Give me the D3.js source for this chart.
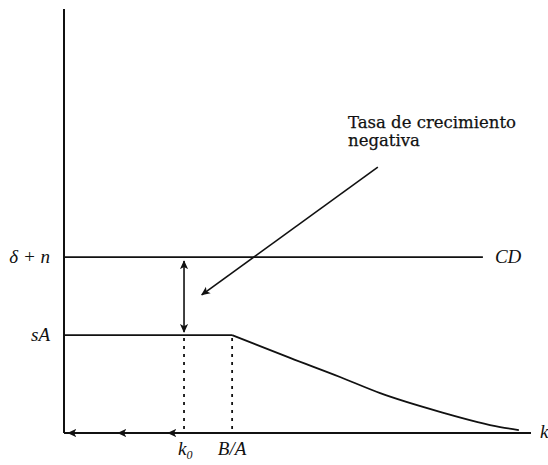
<!DOCTYPE html>
<html>
<head>
<meta charset="utf-8">
<script src="https://cdn.jsdelivr.net/npm/d3@7"></script>
<style>
  body { margin: 0; background: #fff; }
  svg { display: block; }
  .math { font-family: 'Liberation Serif', serif; font-style: italic; font-size: 19px; fill: #111; }
  .note { font-family: 'DejaVu Serif', serif; font-size: 16.5px; fill: #111; stroke: #111; stroke-width: 0.25; }
</style>
</head>
<body>
<svg id="chart"></svg>
<script>
// model values (k on x, rates on y, both 0..10)
const kMax = 10;
const rMax = 10;
const k0 = 2.57;
const kBA = 3.6;
const sA = 2.31;
const deltaN = 4.15;
const cdEnd = 8.97;
const curveK = [3.6, 4.84, 5.91, 6.77, 8.05, 9.34, 9.74];
const curveR = [2.31, 1.77, 1.32, 0.94, 0.50, 0.14, 0.07];
const axisArrows = [0.09, 1.16, 2.23];
const noteLines = ['Tasa de crecimiento', 'negativa'];
const noteFrom = [6.72, 6.27];
const noteTo = [2.95, 3.26];

const width = 548, height = 465;
const svg = d3.select('#chart').attr('width', width).attr('height', height);

const x = d3.scaleLinear().domain([0, kMax]).range([64, 531]);
const y = d3.scaleLinear().domain([0, rMax]).range([433, 9]);

const defs = svg.append('defs');
defs.append('marker')
    .attr('id', 'head')
    .attr('viewBox', '0 0 10 10')
    .attr('refX', 9).attr('refY', 5)
    .attr('markerWidth', 9).attr('markerHeight', 9)
    .attr('markerUnits', 'userSpaceOnUse')
    .attr('orient', 'auto-start-reverse')
    .append('path')
    .attr('d', 'M0,0.5 L10,5 L0,9.5 L2.5,5 Z')
    .attr('fill', '#111');

const g = svg.append('g').attr('stroke', '#111').attr('fill', 'none');

// axes
g.append('line')
    .attr('x1', x(0)).attr('x2', x(0))
    .attr('y1', y(rMax)).attr('y2', y(0))
    .attr('stroke-width', 2);
g.append('line')
    .attr('x1', x(0)).attr('x2', x(kMax))
    .attr('y1', y(0)).attr('y2', y(0))
    .attr('stroke-width', 2);

// leftward arrows along the k axis
g.selectAll('.ax-arrow')
    .data(axisArrows)
    .join('line')
    .attr('class', 'ax-arrow')
    .attr('x1', d => x(d) + 10).attr('x2', d => x(d))
    .attr('y1', y(0)).attr('y2', y(0))
    .attr('stroke-width', 2)
    .attr('marker-end', 'url(#head)');

// depreciation + population line
g.append('line')
    .attr('x1', x(0)).attr('x2', x(cdEnd))
    .attr('y1', y(deltaN)).attr('y2', y(deltaN))
    .attr('stroke-width', 1.8);

// sA flat part, then the falling curve past B/A
const curve = d3.line()
    .x(d => x(d[0])).y(d => y(d[1]))
    .curve(d3.curveMonotoneX);
g.append('path')
    .attr('d', curve([[0, sA], [kBA, sA]]))
    .attr('stroke-width', 1.8);
g.append('path')
    .attr('d', curve(d3.zip(curveK, curveR)))
    .attr('stroke-width', 1.8);

// dashed guides
g.selectAll('.guide')
    .data([k0, kBA])
    .join('line')
    .attr('class', 'guide')
    .attr('x1', d => x(d)).attr('x2', d => x(d))
    .attr('y1', y(sA) + 3).attr('y2', y(0))
    .attr('stroke-width', 1.8)
    .attr('stroke-dasharray', '3,5');

// gap arrow between the two rates
g.append('line')
    .attr('x1', x(k0)).attr('x2', x(k0))
    .attr('y1', y(deltaN) + 4).attr('y2', y(sA) - 3)
    .attr('stroke-width', 1.6)
    .attr('marker-start', 'url(#head)')
    .attr('marker-end', 'url(#head)');

// annotation arrow
g.append('line')
    .attr('x1', x(noteFrom[0])).attr('y1', y(noteFrom[1]))
    .attr('x2', x(noteTo[0])).attr('y2', y(noteTo[1]))
    .attr('stroke-width', 1.6)
    .attr('marker-end', 'url(#head)');

svg.append('text').attr('class', 'note')
    .selectAll('tspan')
    .data(noteLines)
    .join('tspan')
    .attr('x', 348)
    .attr('y', (d, i) => 128 + i * 18)
    .text(d => d);

// labels
const math = svg.append('g').attr('class', 'math');
math.append('text').attr('x', 50).attr('y', y(deltaN) + 6).attr('text-anchor', 'end').text('δ + n');
math.append('text').attr('x', 50).attr('y', y(sA) + 6).attr('text-anchor', 'end').text('sA');
math.append('text').attr('x', x(cdEnd) + 12).attr('y', y(deltaN) + 6).text('CD');
math.append('text').attr('x', x(kMax) + 9).attr('y', y(0) + 5).text('k');
const k0Label = math.append('text').attr('x', x(k0) - 6).attr('y', 455);
k0Label.append('tspan').text('k');
k0Label.append('tspan').attr('dy', 4).attr('font-size', 12).text('0');
math.append('text').attr('x', x(kBA)).attr('y', 455).attr('text-anchor', 'middle').text('B/A');
</script>
</body>
</html>
